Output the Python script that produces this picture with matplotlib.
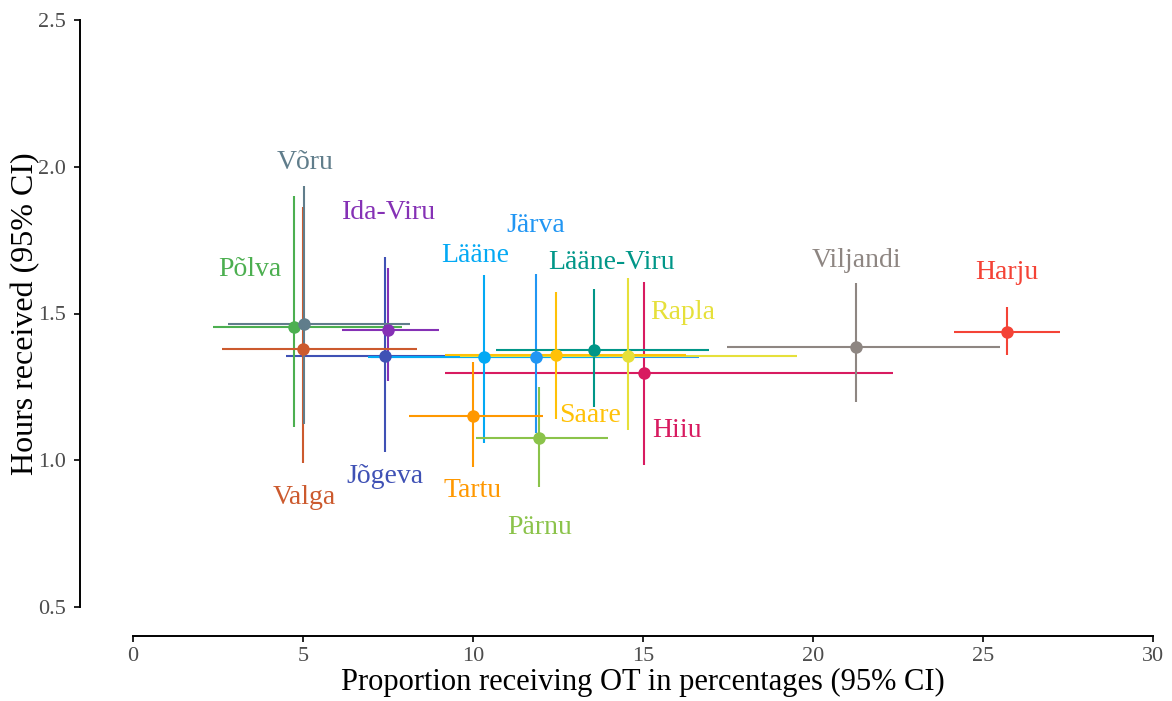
import numpy as np
import matplotlib.pyplot as plt

counties = ['Harju', 'Hiiu', 'Ida-Viru', 'Jõgeva', 'Järva', 'Lääne', 'Lääne-Viru',
            'Pärnu', 'Põlva', 'Rapla', 'Saare', 'Tartu', 'Valga', 'Viljandi', 'Võru']
prop = [25.70, 15.02, 7.51, 7.42, 11.84, 10.33, 13.55,
        11.94, 4.74, 14.57, 12.44, 9.99, 5.01, 21.26, 5.04]
prop_lo = [24.16, 9.18, 6.14, 4.49, 7.00, 6.90, 10.68,
           10.09, 2.36, 9.62, 9.18, 8.13, 2.61, 17.46, 2.79]
prop_hi = [27.26, 22.36, 9.01, 10.30, 16.65, 14.00, 16.94,
           13.98, 7.90, 19.52, 16.25, 12.07, 8.34, 25.50, 8.15]
hours = [1.438, 1.298, 1.444, 1.356, 1.353, 1.351, 1.377,
         1.076, 1.453, 1.356, 1.357, 1.151, 1.378, 1.386, 1.463]
hours_lo = [1.359, 0.983, 1.271, 1.027, 1.093, 1.060, 1.180,
            0.910, 1.113, 1.103, 1.140, 0.978, 0.990, 1.197, 1.124]
hours_hi = [1.523, 1.607, 1.655, 1.694, 1.635, 1.631, 1.583,
            1.249, 1.900, 1.620, 1.572, 1.334, 1.864, 1.603, 1.934]

colors = ['#F44336', '#D81B60', '#8531B5', '#3F51B5', '#2196F3', '#03A9F4', '#009688',
          '#8BC34A', '#4CAF50', '#E6E03A', '#FFC107', '#FF9800', '#CC5A2E', '#8E8682', '#607D8B']

# where each county name sits (data coords, text centre)
label_pos = {
    'Harju': (25.71, 1.638), 'Hiiu': (16.00, 1.103), 'Ida-Viru': (7.52, 1.843),
    'Jõgeva': (7.41, 0.946), 'Järva': (11.85, 1.801), 'Lääne': (10.06, 1.696),
    'Lääne-Viru': (14.07, 1.674), 'Pärnu': (11.96, 0.770), 'Põlva': (3.44, 1.651),
    'Rapla': (16.18, 1.503), 'Saare': (13.44, 1.154), 'Tartu': (9.99, 0.898),
    'Valga': (5.03, 0.872), 'Viljandi': (21.27, 1.682), 'Võru': (5.05, 2.013),
}

plt.rcParams['font.family'] = ['Liberation Serif', 'DejaVu Serif']

fig = plt.figure(figsize=(11.72, 7.01), dpi=100)
ax = fig.add_axes([133 / 1172, 1 - 607 / 701, 1020 / 1172, 587 / 701])

x = np.array(prop)
y = np.array(hours)
xerr = np.vstack([x - np.array(prop_lo), np.array(prop_hi) - x])
yerr = np.vstack([y - np.array(hours_lo), np.array(hours_hi) - y])

for i, name in enumerate(counties):
    ax.errorbar(x[i], y[i], xerr=xerr[:, i:i + 1], yerr=yerr[:, i:i + 1],
                fmt='none', ecolor=colors[i], elinewidth=1.5, capsize=0, zorder=2)
for i, name in enumerate(counties):
    ax.plot(x[i], y[i], 'o', color=colors[i], ms=9, mec='none', zorder=3)
    lx, ly = label_pos[name]
    ax.text(lx, ly, name, color=colors[i], fontsize=20, ha='center', va='center')

ax.set_xlim(0, 30)
ax.set_ylim(0.5, 2.5)
ax.set_xticks([0, 5, 10, 15, 20, 25, 30])
ax.set_yticks([0.5, 1.0, 1.5, 2.0, 2.5])
ax.set_yticklabels(['0.5', '1.0', '1.5', '2.0', '2.5'])

for s in ['top', 'right']:
    ax.spines[s].set_visible(False)
ax.spines['left'].set_position(('outward', 38))
ax.spines['bottom'].set_position(('outward', 21))
ax.spines['left'].set_linewidth(1.4)
ax.spines['bottom'].set_linewidth(1.4)
ax.tick_params(axis='both', length=4, width=1.2, labelsize=16, labelcolor='#4D4D4D')
ax.tick_params(axis='y', pad=6)

ax.set_xlabel('Proportion receiving OT in percentages (95% CI)', fontsize=22, labelpad=2)
ax.set_ylabel('Hours received (95% CI)', fontsize=23, labelpad=-1)

fig.savefig('out.png', dpi=100)
